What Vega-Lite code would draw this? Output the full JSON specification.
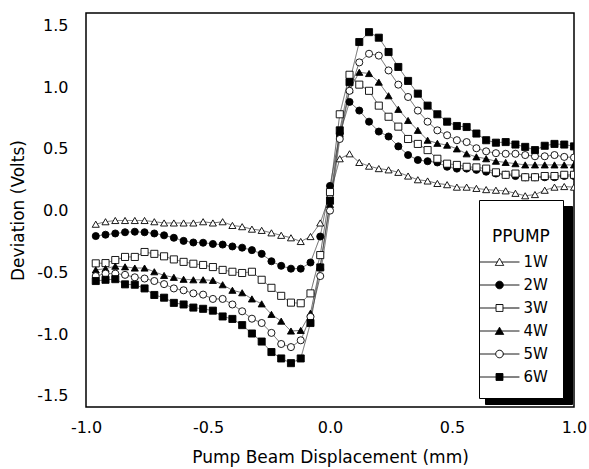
{
  "$schema": "https://vega.github.io/schema/vega-lite/v6.json",
  "width": 488,
  "height": 394,
  "autosize": {"type": "none"},
  "padding": {"left": 86, "top": 13, "right": 15, "bottom": 62},
  "background": "white",
  "config": {
    "view": {"stroke": "black", "strokeWidth": 1.5},
    "font": "DejaVu Sans",
    "axis": {
      "domain": false, "ticks": false, "tickSize": 0, "grid": false,
      "labelColor": "black", "titleColor": "black",
      "labelFont": "DejaVu Sans", "titleFont": "DejaVu Sans",
      "labelFontSize": 16, "titleFontSize": 17, "titleFontWeight": "normal",
      "labelOverlap": false, "labelFlush": false
    }
  },
  "datasets": {
    "pts": [
      {"s":"1W","x":-0.96,"y":-0.11},{"s":"1W","x":-0.92,"y":-0.09},{"s":"1W","x":-0.88,"y":-0.08},{"s":"1W","x":-0.84,"y":-0.08},{"s":"1W","x":-0.8,"y":-0.08},{"s":"1W","x":-0.76,"y":-0.08},{"s":"1W","x":-0.72,"y":-0.09},{"s":"1W","x":-0.68,"y":-0.1},{"s":"1W","x":-0.64,"y":-0.1},{"s":"1W","x":-0.6,"y":-0.1},
      {"s":"1W","x":-0.56,"y":-0.1},{"s":"1W","x":-0.52,"y":-0.09},{"s":"1W","x":-0.48,"y":-0.1},{"s":"1W","x":-0.44,"y":-0.09},{"s":"1W","x":-0.4,"y":-0.12},{"s":"1W","x":-0.36,"y":-0.13},{"s":"1W","x":-0.32,"y":-0.15},{"s":"1W","x":-0.28,"y":-0.16},{"s":"1W","x":-0.24,"y":-0.18},{"s":"1W","x":-0.2,"y":-0.2},
      {"s":"1W","x":-0.16,"y":-0.22},{"s":"1W","x":-0.12,"y":-0.25},{"s":"1W","x":-0.08,"y":-0.21},{"s":"1W","x":-0.04,"y":-0.1},{"s":"1W","x":0,"y":0.13},{"s":"1W","x":0.04,"y":0.42},{"s":"1W","x":0.08,"y":0.46},{"s":"1W","x":0.12,"y":0.39},{"s":"1W","x":0.16,"y":0.36},{"s":"1W","x":0.2,"y":0.34},
      {"s":"1W","x":0.24,"y":0.33},{"s":"1W","x":0.28,"y":0.31},{"s":"1W","x":0.32,"y":0.28},{"s":"1W","x":0.36,"y":0.25},{"s":"1W","x":0.4,"y":0.24},{"s":"1W","x":0.44,"y":0.22},{"s":"1W","x":0.48,"y":0.21},{"s":"1W","x":0.52,"y":0.19},{"s":"1W","x":0.56,"y":0.19},{"s":"1W","x":0.6,"y":0.18},
      {"s":"1W","x":0.64,"y":0.17},{"s":"1W","x":0.68,"y":0.165},{"s":"1W","x":0.72,"y":0.16},{"s":"1W","x":0.76,"y":0.14},{"s":"1W","x":0.8,"y":0.12},{"s":"1W","x":0.84,"y":0.13},{"s":"1W","x":0.88,"y":0.165},{"s":"1W","x":0.92,"y":0.19},{"s":"1W","x":0.96,"y":0.195},{"s":"1W","x":1.0,"y":0.19},

      {"s":"2W","x":-0.96,"y":-0.206},{"s":"2W","x":-0.92,"y":-0.195},{"s":"2W","x":-0.88,"y":-0.185},{"s":"2W","x":-0.84,"y":-0.175},{"s":"2W","x":-0.8,"y":-0.171},{"s":"2W","x":-0.76,"y":-0.175},{"s":"2W","x":-0.72,"y":-0.185},{"s":"2W","x":-0.68,"y":-0.2},{"s":"2W","x":-0.64,"y":-0.22},{"s":"2W","x":-0.6,"y":-0.245},
      {"s":"2W","x":-0.56,"y":-0.258},{"s":"2W","x":-0.52,"y":-0.26},{"s":"2W","x":-0.48,"y":-0.27},{"s":"2W","x":-0.44,"y":-0.275},{"s":"2W","x":-0.4,"y":-0.29},{"s":"2W","x":-0.36,"y":-0.3},{"s":"2W","x":-0.32,"y":-0.32},{"s":"2W","x":-0.28,"y":-0.35},{"s":"2W","x":-0.24,"y":-0.41},{"s":"2W","x":-0.2,"y":-0.447},
      {"s":"2W","x":-0.16,"y":-0.47},{"s":"2W","x":-0.12,"y":-0.47},{"s":"2W","x":-0.08,"y":-0.42},{"s":"2W","x":-0.04,"y":-0.21},{"s":"2W","x":0,"y":0.2},{"s":"2W","x":0.04,"y":0.62},{"s":"2W","x":0.08,"y":0.88},{"s":"2W","x":0.12,"y":0.81},{"s":"2W","x":0.16,"y":0.72},{"s":"2W","x":0.2,"y":0.64},
      {"s":"2W","x":0.24,"y":0.6},{"s":"2W","x":0.28,"y":0.52},{"s":"2W","x":0.32,"y":0.45},{"s":"2W","x":0.36,"y":0.41},{"s":"2W","x":0.4,"y":0.4},{"s":"2W","x":0.44,"y":0.39},{"s":"2W","x":0.48,"y":0.355},{"s":"2W","x":0.52,"y":0.34},{"s":"2W","x":0.56,"y":0.34},{"s":"2W","x":0.6,"y":0.33},
      {"s":"2W","x":0.64,"y":0.315},{"s":"2W","x":0.68,"y":0.3},{"s":"2W","x":0.72,"y":0.29},{"s":"2W","x":0.76,"y":0.28},{"s":"2W","x":0.8,"y":0.27},{"s":"2W","x":0.84,"y":0.27},{"s":"2W","x":0.88,"y":0.27},{"s":"2W","x":0.92,"y":0.27},{"s":"2W","x":0.96,"y":0.28},{"s":"2W","x":1.0,"y":0.28},

      {"s":"3W","x":-0.96,"y":-0.427},{"s":"3W","x":-0.92,"y":-0.425},{"s":"3W","x":-0.88,"y":-0.4},{"s":"3W","x":-0.84,"y":-0.375},{"s":"3W","x":-0.8,"y":-0.375},{"s":"3W","x":-0.76,"y":-0.335},{"s":"3W","x":-0.72,"y":-0.35},{"s":"3W","x":-0.68,"y":-0.37},{"s":"3W","x":-0.64,"y":-0.395},{"s":"3W","x":-0.6,"y":-0.415},
      {"s":"3W","x":-0.56,"y":-0.43},{"s":"3W","x":-0.52,"y":-0.44},{"s":"3W","x":-0.48,"y":-0.457},{"s":"3W","x":-0.44,"y":-0.48},{"s":"3W","x":-0.4,"y":-0.495},{"s":"3W","x":-0.36,"y":-0.505},{"s":"3W","x":-0.32,"y":-0.495},{"s":"3W","x":-0.28,"y":-0.56},{"s":"3W","x":-0.24,"y":-0.625},{"s":"3W","x":-0.2,"y":-0.69},
      {"s":"3W","x":-0.16,"y":-0.745},{"s":"3W","x":-0.12,"y":-0.75},{"s":"3W","x":-0.08,"y":-0.67},{"s":"3W","x":-0.04,"y":-0.36},{"s":"3W","x":0,"y":0.15},{"s":"3W","x":0.04,"y":0.78},{"s":"3W","x":0.08,"y":1.1},{"s":"3W","x":0.12,"y":1.02},{"s":"3W","x":0.16,"y":0.97},{"s":"3W","x":0.2,"y":0.85},
      {"s":"3W","x":0.24,"y":0.76},{"s":"3W","x":0.28,"y":0.68},{"s":"3W","x":0.32,"y":0.58},{"s":"3W","x":0.36,"y":0.54},{"s":"3W","x":0.4,"y":0.49},{"s":"3W","x":0.44,"y":0.42},{"s":"3W","x":0.48,"y":0.38},{"s":"3W","x":0.52,"y":0.37},{"s":"3W","x":0.56,"y":0.355},{"s":"3W","x":0.6,"y":0.35},
      {"s":"3W","x":0.64,"y":0.34},{"s":"3W","x":0.68,"y":0.31},{"s":"3W","x":0.72,"y":0.29},{"s":"3W","x":0.76,"y":0.3},{"s":"3W","x":0.8,"y":0.27},{"s":"3W","x":0.84,"y":0.27},{"s":"3W","x":0.88,"y":0.28},{"s":"3W","x":0.92,"y":0.28},{"s":"3W","x":0.96,"y":0.29},{"s":"3W","x":1.0,"y":0.29},

      {"s":"4W","x":-0.96,"y":-0.48},{"s":"4W","x":-0.92,"y":-0.47},{"s":"4W","x":-0.88,"y":-0.45},{"s":"4W","x":-0.84,"y":-0.455},{"s":"4W","x":-0.8,"y":-0.465},{"s":"4W","x":-0.76,"y":-0.465},{"s":"4W","x":-0.72,"y":-0.495},{"s":"4W","x":-0.68,"y":-0.525},{"s":"4W","x":-0.64,"y":-0.54},{"s":"4W","x":-0.6,"y":-0.556},
      {"s":"4W","x":-0.56,"y":-0.56},{"s":"4W","x":-0.52,"y":-0.56},{"s":"4W","x":-0.48,"y":-0.565},{"s":"4W","x":-0.44,"y":-0.6},{"s":"4W","x":-0.4,"y":-0.645},{"s":"4W","x":-0.36,"y":-0.665},{"s":"4W","x":-0.32,"y":-0.715},{"s":"4W","x":-0.28,"y":-0.755},{"s":"4W","x":-0.24,"y":-0.84},{"s":"4W","x":-0.2,"y":-0.895},
      {"s":"4W","x":-0.16,"y":-0.975},{"s":"4W","x":-0.12,"y":-0.97},{"s":"4W","x":-0.08,"y":-0.83},{"s":"4W","x":-0.04,"y":-0.45},{"s":"4W","x":0,"y":0.05},{"s":"4W","x":0.04,"y":0.62},{"s":"4W","x":0.08,"y":0.98},{"s":"4W","x":0.12,"y":1.12},{"s":"4W","x":0.16,"y":1.11},{"s":"4W","x":0.2,"y":1.04},
      {"s":"4W","x":0.24,"y":0.93},{"s":"4W","x":0.28,"y":0.82},{"s":"4W","x":0.32,"y":0.73},{"s":"4W","x":0.36,"y":0.65},{"s":"4W","x":0.4,"y":0.57},{"s":"4W","x":0.44,"y":0.545},{"s":"4W","x":0.48,"y":0.53},{"s":"4W","x":0.52,"y":0.5},{"s":"4W","x":0.56,"y":0.46},{"s":"4W","x":0.6,"y":0.435},
      {"s":"4W","x":0.64,"y":0.42},{"s":"4W","x":0.68,"y":0.4},{"s":"4W","x":0.72,"y":0.39},{"s":"4W","x":0.76,"y":0.38},{"s":"4W","x":0.8,"y":0.37},{"s":"4W","x":0.84,"y":0.37},{"s":"4W","x":0.88,"y":0.37},{"s":"4W","x":0.92,"y":0.37},{"s":"4W","x":0.96,"y":0.37},{"s":"4W","x":1.0,"y":0.37},

      {"s":"5W","x":-0.96,"y":-0.53},{"s":"5W","x":-0.92,"y":-0.51},{"s":"5W","x":-0.88,"y":-0.51},{"s":"5W","x":-0.84,"y":-0.52},{"s":"5W","x":-0.8,"y":-0.54},{"s":"5W","x":-0.76,"y":-0.55},{"s":"5W","x":-0.72,"y":-0.57},{"s":"5W","x":-0.68,"y":-0.595},{"s":"5W","x":-0.64,"y":-0.63},{"s":"5W","x":-0.6,"y":-0.645},
      {"s":"5W","x":-0.56,"y":-0.67},{"s":"5W","x":-0.52,"y":-0.68},{"s":"5W","x":-0.48,"y":-0.715},{"s":"5W","x":-0.44,"y":-0.715},{"s":"5W","x":-0.4,"y":-0.76},{"s":"5W","x":-0.36,"y":-0.815},{"s":"5W","x":-0.32,"y":-0.875},{"s":"5W","x":-0.28,"y":-0.91},{"s":"5W","x":-0.24,"y":-0.99},{"s":"5W","x":-0.2,"y":-1.08},
      {"s":"5W","x":-0.16,"y":-1.105},{"s":"5W","x":-0.12,"y":-1.05},{"s":"5W","x":-0.08,"y":-0.86},{"s":"5W","x":-0.04,"y":-0.53},{"s":"5W","x":0,"y":0.0},{"s":"5W","x":0.04,"y":0.58},{"s":"5W","x":0.08,"y":0.97},{"s":"5W","x":0.12,"y":1.2},{"s":"5W","x":0.16,"y":1.27},{"s":"5W","x":0.2,"y":1.255},
      {"s":"5W","x":0.24,"y":1.135},{"s":"5W","x":0.28,"y":1.02},{"s":"5W","x":0.32,"y":0.92},{"s":"5W","x":0.36,"y":0.81},{"s":"5W","x":0.4,"y":0.72},{"s":"5W","x":0.44,"y":0.65},{"s":"5W","x":0.48,"y":0.61},{"s":"5W","x":0.52,"y":0.57},{"s":"5W","x":0.56,"y":0.555},{"s":"5W","x":0.6,"y":0.505},
      {"s":"5W","x":0.64,"y":0.48},{"s":"5W","x":0.68,"y":0.465},{"s":"5W","x":0.72,"y":0.46},{"s":"5W","x":0.76,"y":0.46},{"s":"5W","x":0.8,"y":0.45},{"s":"5W","x":0.84,"y":0.44},{"s":"5W","x":0.88,"y":0.44},{"s":"5W","x":0.92,"y":0.45},{"s":"5W","x":0.96,"y":0.435},{"s":"5W","x":1.0,"y":0.43},

      {"s":"6W","x":-0.96,"y":-0.57},{"s":"6W","x":-0.92,"y":-0.56},{"s":"6W","x":-0.88,"y":-0.555},{"s":"6W","x":-0.84,"y":-0.597},{"s":"6W","x":-0.8,"y":-0.6},{"s":"6W","x":-0.76,"y":-0.63},{"s":"6W","x":-0.72,"y":-0.683},{"s":"6W","x":-0.68,"y":-0.705},{"s":"6W","x":-0.64,"y":-0.747},{"s":"6W","x":-0.6,"y":-0.76},
      {"s":"6W","x":-0.56,"y":-0.785},{"s":"6W","x":-0.52,"y":-0.795},{"s":"6W","x":-0.48,"y":-0.81},{"s":"6W","x":-0.44,"y":-0.857},{"s":"6W","x":-0.4,"y":-0.877},{"s":"6W","x":-0.36,"y":-0.927},{"s":"6W","x":-0.32,"y":-0.995},{"s":"6W","x":-0.28,"y":-1.06},{"s":"6W","x":-0.24,"y":-1.145},{"s":"6W","x":-0.2,"y":-1.197},
      {"s":"6W","x":-0.16,"y":-1.235},{"s":"6W","x":-0.12,"y":-1.197},{"s":"6W","x":-0.08,"y":-0.91},{"s":"6W","x":-0.04,"y":-0.46},{"s":"6W","x":0,"y":0.08},{"s":"6W","x":0.04,"y":0.65},{"s":"6W","x":0.08,"y":1.04},{"s":"6W","x":0.12,"y":1.365},{"s":"6W","x":0.16,"y":1.445},{"s":"6W","x":0.2,"y":1.4},
      {"s":"6W","x":0.24,"y":1.284},{"s":"6W","x":0.28,"y":1.163},{"s":"6W","x":0.32,"y":1.05},{"s":"6W","x":0.36,"y":0.947},{"s":"6W","x":0.4,"y":0.85},{"s":"6W","x":0.44,"y":0.78},{"s":"6W","x":0.48,"y":0.72},{"s":"6W","x":0.52,"y":0.685},{"s":"6W","x":0.56,"y":0.677},{"s":"6W","x":0.6,"y":0.624},
      {"s":"6W","x":0.64,"y":0.57},{"s":"6W","x":0.68,"y":0.55},{"s":"6W","x":0.72,"y":0.555},{"s":"6W","x":0.76,"y":0.535},{"s":"6W","x":0.8,"y":0.516},{"s":"6W","x":0.84,"y":0.49},{"s":"6W","x":0.88,"y":0.525},{"s":"6W","x":0.92,"y":0.54},{"s":"6W","x":0.96,"y":0.535},{"s":"6W","x":1.0,"y":0.52}
    ]
  },
  "data": {"name": "pts"},
  "encoding": {
    "x": {
      "field": "x", "type": "quantitative",
      "scale": {"domain": [-1, 1], "nice": false, "zero": false},
      "axis": {
        "title": "Pump Beam Displacement (mm)",
        "values": [-1, -0.5, 0, 0.5, 1],
        "labelExpr": "replace(format(datum.value, '.1f'), '−', '-')",
        "labelPadding": 12, "titlePadding": 14
      }
    },
    "y": {
      "field": "y", "type": "quantitative",
      "scale": {"domain": [-1.59, 1.6], "nice": false, "zero": false},
      "axis": {
        "title": "Deviation (Volts)",
        "values": [-1.5, -1, -0.5, 0, 0.5, 1, 1.5],
        "labelExpr": "replace(format(datum.value, '.1f'), '−', '-')",
        "labelPadding": 18, "titlePadding": 9
      }
    }
  },
  "layer": [
    {
      "mark": {"type": "line", "strokeWidth": 0.8, "clip": true},
      "encoding": {
        "detail": {"field": "s", "type": "nominal"},
        "strokeDash": {
          "field": "s", "type": "nominal",
          "scale": {"domain": ["1W","2W","3W","4W","5W","6W"], "range": [[1, 0], [1, 0], [1, 0], [1, 0], [1, 0], [1, 0]]},
          "legend": {
            "orient": "none", "legendX": 393, "legendY": 187, "zindex": 2,
            "padding": 13, "fillColor": "white", "strokeColor": "black",
            "title": ["", "PPUMP"], "titleFont": "DejaVu Sans", "titleFontSize": 17, "titleFontWeight": "normal", "titleColor": "black", "titleLineHeight": 16, "titlePadding": 5,
            "labelFont": "DejaVu Sans", "labelFontSize": 15, "labelColor": "black", "labelOffset": 13,
            "symbolSize": 441, "symbolOffset": -3.5, "symbolStrokeWidth": 1, "symbolStrokeColor": "black", "rowPadding": 4,
            "encode": {
              "symbols": {"update": {
                "shape": {"signal": "(datum.value === '1W' || datum.value === '4W') ? 'M-1.9,0H-0.21M0.21,0H1.9M-0.4,0.33L0,-0.36L0.4,0.33Z' : (datum.value === '2W' || datum.value === '5W') ? 'M-1.9,0H-0.36M0.36,0H1.9M0.36,0A0.36,0.36,0,1,1,-0.36,0A0.36,0.36,0,1,1,0.36,0Z' : 'M-1.9,0H-0.33M0.33,0H1.9M-0.33,-0.33H0.33V0.33H-0.33Z'"},
                "fill": {"signal": "(datum.value === '2W' || datum.value === '4W' || datum.value === '6W') ? 'black' : 'white'"},
                "stroke": {"value": "black"},
                "strokeWidth": {"value": 1},
                "opacity": {"value": 1}
              }}
            }
          }
        },
        "color": {
          "field": "s", "type": "nominal",
          "scale": {"range": ["#444", "#444", "#444", "#444", "#444", "#444"]},
          "legend": {
            "orient": "none", "legendX": 399, "legendY": 193, "zindex": 0,
            "padding": 13, "fillColor": "black", "strokeColor": "black",
            "title": ["", "\u2002"], "titleFont": "DejaVu Sans", "titleFontSize": 17, "titleFontWeight": "normal", "titleColor": "black", "titleLineHeight": 16, "titlePadding": 5,
            "labelFont": "DejaVu Sans", "labelFontSize": 15, "labelColor": "black", "labelOffset": 40,
            "labelExpr": "'\u2002\u2002\u2002'",
            "symbolSize": 441, "symbolOffset": -1, "symbolStrokeWidth": 1, "symbolOpacity": 0, "rowPadding": 4
          }
        }
      }
    },
    {
      "mark": {"type": "point", "size": 50, "stroke": "black", "strokeWidth": 0.9, "opacity": 1, "fillOpacity": 1, "clip": true},
      "encoding": {
        "shape": {
          "field": "s", "type": "nominal",
          "scale": {"range": ["triangle-up","circle","square","triangle-up","circle","square"]},
          "legend": null
        },
        "fill": {
          "field": "s", "type": "nominal",
          "scale": {"range": ["white","black","white","black","white","black"]},
          "legend": null
        }
      }
    },
    {
      "data": {"values": [{"x": -0.75}, {"x": -0.5}, {"x": -0.25}, {"x": 0}, {"x": 0.25}, {"x": 0.5}, {"x": 0.75}]},
      "mark": {"type": "tick", "orient": "vertical", "size": 6, "thickness": 1.2, "color": "black", "opacity": 1, "yOffset": -3},
      "encoding": {"y": {"datum": -1.59}}
    },
    {
      "data": {"values": [{"y": -1.5}, {"y": -1.25}, {"y": -1}, {"y": -0.75}, {"y": -0.5}, {"y": -0.25}, {"y": 0}, {"y": 0.25}, {"y": 0.5}, {"y": 0.75}, {"y": 1}, {"y": 1.25}, {"y": 1.5}]},
      "mark": {"type": "tick", "orient": "horizontal", "size": 6, "thickness": 1.2, "color": "black", "opacity": 1, "xOffset": 3},
      "encoding": {"x": {"datum": -1}}
    }
  ]
}
